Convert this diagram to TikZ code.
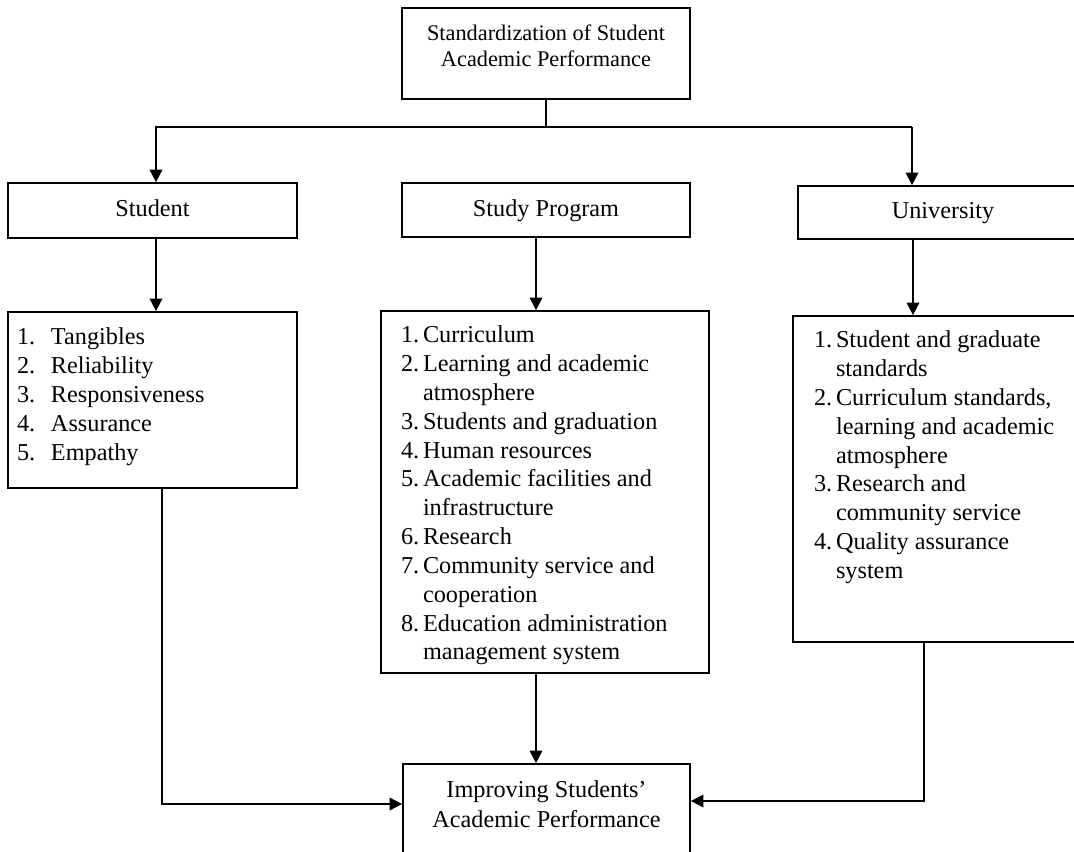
\documentclass[tikz,border=0pt]{standalone}
\usepackage{fontspec}
\setmainfont{Liberation Serif}
\usetikzlibrary{arrows.meta}
\newcommand{\itemno}[2]{\makebox[#1][l]{#2}}

\begin{document}
\begin{tikzpicture}[line width=1pt, >={Triangle[length=0.25cm,width=0.25cm]},
  box/.style={draw, inner sep=0pt},
  txt/.style={inner sep=0pt, font=\fontsize{13.8}{16.4}\selectfont},
  title/.style={box, txt, text height=0.34cm, text depth=0.10cm}]
\useasboundingbox (0,0) rectangle (21.48,-17.02);
\node[box, minimum width=5.76cm, minimum height=1.82cm] (top) at (10.92,-1.07) {};
\node[txt, anchor=north, align=center, font=\fontsize{12.7}{14.7}\selectfont] (toptext) at ([yshift=-0.34cm]top.north) {Standardization of Student\\Academic Performance};
\node[title, minimum width=5.78cm, minimum height=1.10cm] (stud) at (3.05,-4.21) {Student};
\node[title, minimum width=5.76cm, minimum height=1.08cm] (prog) at (10.92,-4.20) {Study Program};
\node[title, minimum width=5.80cm, minimum height=1.06cm] (univ) at (18.86,-4.25) {University};
\node[box, minimum width=5.78cm, minimum height=3.52cm] (slist) at (3.05,-8.00) {};
\node[box, minimum width=6.56cm, minimum height=7.24cm] (plist) at (10.90,-9.84) {};
\node[box, minimum width=5.94cm, minimum height=6.52cm] (ulist) at (18.83,-9.58) {};
\node[box, minimum width=5.74cm, minimum height=2.32cm] (goal) at (10.93,-16.44) {};
\node[txt, anchor=north, align=center, font=\fontsize{13.8}{17}\selectfont] (goaltext) at ([yshift=-0.34cm]goal.north) {Improving Students'\\Academic Performance};
\node[txt, anchor=north west, align=left] (slisttext) at ([xshift=0.18cm,yshift=-0.32cm]slist.north west) {\itemno{0.68cm}{1.}Tangibles\\
  \itemno{0.68cm}{2.}Reliability\\
  \itemno{0.68cm}{3.}Responsiveness\\
  \itemno{0.68cm}{4.}Assurance\\
  \itemno{0.68cm}{5.}Empathy};
\node[txt, anchor=north west, align=left] (plisttext) at ([xshift=0.40cm,yshift=-0.30cm]plist.north west) {\itemno{0.44cm}{1.}Curriculum\\
  \itemno{0.44cm}{2.}Learning and academic\\
  \hspace*{0.44cm}atmosphere\\
  \itemno{0.44cm}{3.}Students and graduation\\
  \itemno{0.44cm}{4.}Human resources\\
  \itemno{0.44cm}{5.}Academic facilities and\\
  \hspace*{0.44cm}infrastructure\\
  \itemno{0.44cm}{6.}Research\\
  \itemno{0.44cm}{7.}Community service and\\
  \hspace*{0.44cm}cooperation\\
  \itemno{0.44cm}{8.}Education administration\\
  \hspace*{0.44cm}management system};
\node[txt, anchor=north west, align=left] (ulisttext) at ([xshift=0.42cm,yshift=-0.30cm]ulist.north west) {\itemno{0.44cm}{1.}Student and graduate\\
  \hspace*{0.44cm}standards\\
  \itemno{0.44cm}{2.}Curriculum standards,\\
  \hspace*{0.44cm}learning and academic\\
  \hspace*{0.44cm}atmosphere\\
  \itemno{0.44cm}{3.}Research and\\
  \hspace*{0.44cm}community service\\
  \itemno{0.44cm}{4.}Quality assurance\\
  \hspace*{0.44cm}system};
\coordinate (lcol) at (3.12,-2.54);
\coordinate (rcol) at (18.24,-2.54);
\coordinate (pcol) at (10.72,0);
\coordinate (ucol) at (18.26,0);
\coordinate (lfoot) at (3.24,-16.08);
\coordinate (rfoot) at (18.48,-16.02);
\draw (top.south) -- (top.south |- lcol);
\draw[->] (rcol) -- (lcol) -- (lcol |- stud.north);
\draw[->] (rcol) -- (rcol |- univ.north);
\draw[->] (lcol |- stud.south) -- (lcol |- slist.north);
\draw[->] (pcol |- prog.south) -- (pcol |- plist.north);
\draw[->] (ucol |- univ.south) -- (ucol |- ulist.north);
\draw[->] (pcol |- plist.south) -- (pcol |- goal.north);
\draw[->] (lfoot |- slist.south) -- (lfoot) -- (goal.west |- lfoot);
\draw[->] (rfoot |- ulist.south) -- (rfoot) -- (goal.east |- rfoot);
\end{tikzpicture}
\end{document}
